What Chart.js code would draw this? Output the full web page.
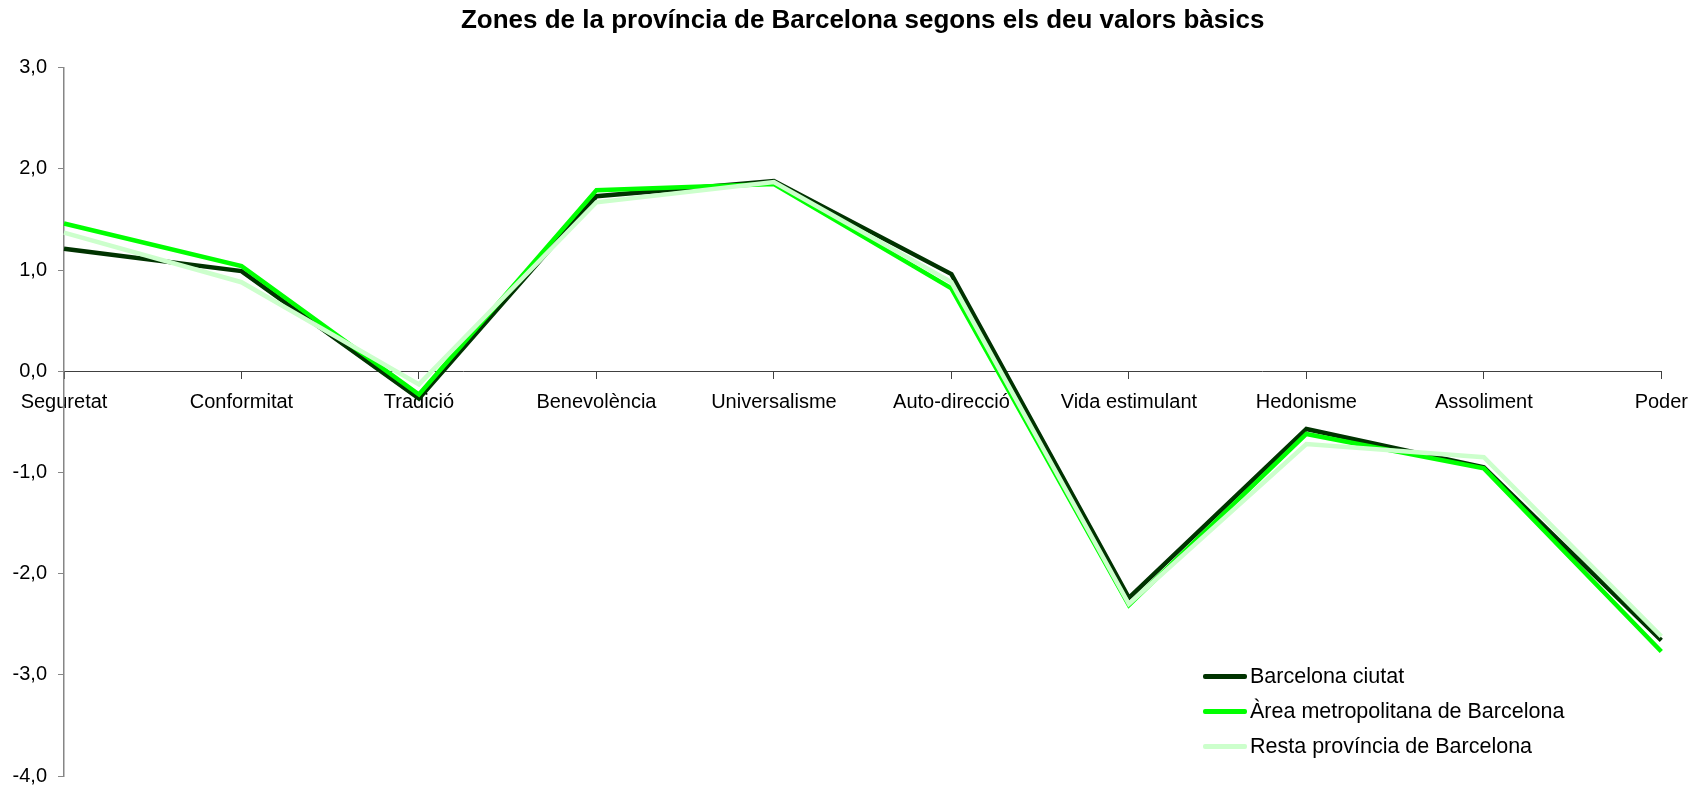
<!DOCTYPE html>
<html>
<head>
<meta charset="utf-8">
<script src="https://cdn.jsdelivr.net/npm/chart.js@4.4.1/dist/chart.umd.min.js"></script>
<style>
    body { margin: 0; background: #fff; }
    #cadre { position: relative; width: 1700px; height: 785px; }
    #legende { position: absolute; left: 1203px; top: 659px; font-family: "Liberation Sans", Arial, sans-serif; font-size: 21.5px; color: #000; }
    .ligne { display: flex; align-items: center; height: 35px; }
    .trait { width: 44px; height: 5px; margin-right: 3px; border-radius: 2px; }
</style>
</head>
<body>
<div id="cadre">
    <canvas id="canvasValors" width="1700" height="785"></canvas>
    <div id="legende"></div>
</div>
<script>
const valors = ["Seguretat", "Conformitat", "Tradició", "Benevolència", "Universalisme", "Auto-direcció", "Vida estimulant", "Hedonisme", "Assoliment", "Poder"]
const nomsZones = ["Barcelona ciutat", "Àrea metropolitana de Barcelona", "Resta província de Barcelona"]
const couleursZones = ["#003300", "#00ff00", "#ccffcc"]

// valeurs
const barcelonaCiutat = [1.21, 0.99, -0.27, 1.73, 1.88, 0.96, -2.24, -0.57, -0.95, -2.66]
const areaMetropolitana = [1.46, 1.04, -0.23, 1.79, 1.85, 0.82, -2.31, -0.62, -0.96, -2.77]
const restaProvincia = [1.37, 0.88, -0.13, 1.67, 1.87, 0.88, -2.30, -0.72, -0.85, -2.62]
const seriesZones = [barcelonaCiutat, areaMetropolitana, restaProvincia]

const police = "'Liberation Sans', Arial, sans-serif"

// datasets : le premier en dessous, le dernier au dessus (comme excel)
let datasets = []
for (let i = 0; i < seriesZones.length; i++) {
    datasets.push({
        label: nomsZones[i],
        data: seriesZones[i],
        borderColor: couleursZones[i],
        backgroundColor: couleursZones[i],
        borderWidth: 4.5,
        pointRadius: 0,
        tension: 0,
        clip: false,
        order: seriesZones.length - i
    })
}

let canvas = document.getElementById("canvasValors")
new Chart(canvas, {
    type: 'line',
    data: {
        labels: valors,
        datasets: datasets
    },
    options: {
        responsive: false,
        animation: false,
        devicePixelRatio: 1,
        layout: {
            padding: { top: 0, bottom: 9, left: 0, right: 37 }
        },
        scales: {
            x: {
                position: { y: 0 },
                grid: {
                    drawOnChartArea: false,
                    tickLength: 7,
                    color: '#404040'
                },
                border: { display: true, color: '#404040', width: 1 },
                ticks: {
                    color: '#000',
                    font: { family: police, size: 20 },
                    padding: 12,
                    autoSkip: false,
                    maxRotation: 0
                }
            },
            y: {
                min: -4,
                max: 3,
                grid: {
                    drawOnChartArea: false,
                    tickLength: 6,
                    color: '#868686'
                },
                border: { display: true, color: '#868686', width: 1.5 },
                ticks: {
                    stepSize: 1,
                    color: '#000',
                    padding: 11,
                    font: { family: police, size: 20 },
                    callback: function(value) {
                        return value.toFixed(1).replace(".", ",")
                    }
                },
                afterFit: function(scale) {
                    // bord de l'axe y à 64px, pas de marge en haut et en bas
                    scale.width = 64
                    scale.paddingTop = 0
                    scale.paddingBottom = 0
                }
            }
        },
        plugins: {
            legend: { display: false },
            tooltip: { enabled: false },
            title: {
                display: true,
                fullSize: false,
                text: 'Zones de la província de Barcelona segons els deu valors bàsics',
                color: '#000',
                font: { family: police, size: 26, weight: 'bold' },
                padding: { top: 5, bottom: 31.5 }
            }
        }
    }
})

// légende en bas à droite, dans le graphique
let legende = document.getElementById("legende")
for (let i = 0; i < nomsZones.length; i++) {
    let ligne = document.createElement("div")
    ligne.className = "ligne"
    let trait = document.createElement("span")
    trait.className = "trait"
    trait.style.background = couleursZones[i]
    let texte = document.createElement("span")
    texte.innerText = nomsZones[i]
    ligne.appendChild(trait)
    ligne.appendChild(texte)
    legende.appendChild(ligne)
}
</script>
</body>
</html>
